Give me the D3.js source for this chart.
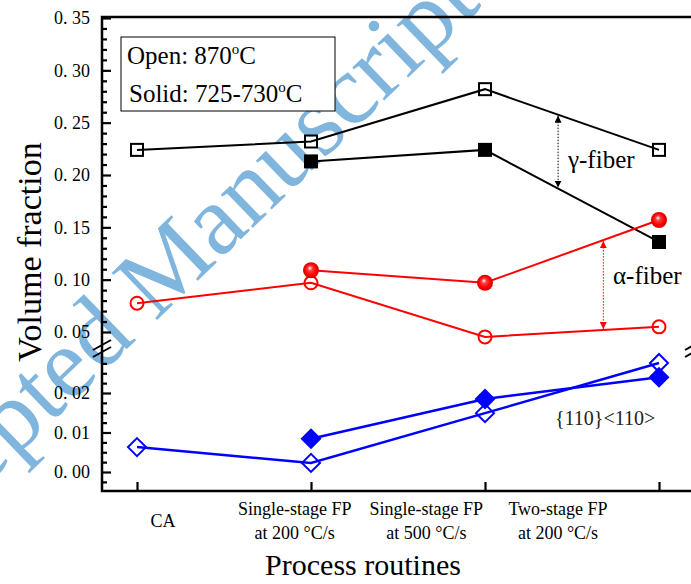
<!DOCTYPE html>
<meta charset="utf-8">
<script src="https://d3js.org/d3.v7.min.js"></script>
<style>
  body { margin: 0; background: #fff; }
  text { font-family: "Liberation Serif", "Times New Roman", serif; }
</style>
<div id="chart"></div>
<script>
  // categories and values
  var routines = ["CA", "SS200", "SS500", "TS200"];
  var routineLabels = [["CA"], ["Single-stage FP", "at 200 \u00b0C/s"], ["Single-stage FP", "at 500 \u00b0C/s"], ["Two-stage FP", "at 200 \u00b0C/s"]];
  var gammaOpen = [0.224, 0.232, 0.282, 0.224];
  var gammaSolid = [null, 0.213, 0.224, 0.136];
  var alphaOpen = [0.0775, 0.097, 0.0453, 0.0549];
  var alphaSolid = [null, 0.109, 0.097, 0.157];
  var rotOpen = [0.0063, 0.0023, 0.0149, 0.0276];
  var rotSolid = [null, 0.0084, 0.0185, 0.024];
  var upperTicks = [0.05, 0.10, 0.15, 0.20, 0.25, 0.30, 0.35];
  var lowerTicks = [0.00, 0.01, 0.02];

  var width = 691, height = 584;
  var plotLeft = 102, plotRight = 694, plotTop = 17, plotBottom = 491;

  var svg = d3.select("#chart").append("svg")
    .attr("width", width).attr("height", height);

  var defs = svg.append("defs");
  var grad = defs.append("radialGradient").attr("id", "ball")
    .attr("cx", "50%").attr("cy", "50%").attr("r", "50%")
    .attr("fx", "42%").attr("fy", "35%");
  grad.append("stop").attr("offset", "0%").attr("stop-color", "#ffffff");
  grad.append("stop").attr("offset", "30%").attr("stop-color", "#ff4040");
  grad.append("stop").attr("offset", "70%").attr("stop-color", "#ff0000");
  grad.append("stop").attr("offset", "100%").attr("stop-color", "#d00000");

  ["black", "red"].forEach(function (c) {
    defs.append("marker").attr("id", "arr-" + c)
      .attr("viewBox", "0 0 10 10").attr("refX", 10).attr("refY", 5)
      .attr("markerWidth", 7).attr("markerHeight", 7)
      .attr("markerUnits", "userSpaceOnUse")
      .attr("orient", "auto-start-reverse")
      .append("path").attr("d", "M0,0L10,5L0,10Z").attr("fill", c);
  });

  // watermark
  var wm = svg.append("g").attr("transform", "translate(155,322) rotate(-44)")
    .style("font-size", "100px").attr("fill", "#80b5de");
  wm.append("text").attr("x", -25).attr("text-anchor", "end").text("Accepted");
  wm.append("text").attr("x", 0).text("Manuscript");

  // scales
  var x = d3.scalePoint().domain(routines).range([137, 659]);
  var xLabel = d3.scalePoint().domain(routines).range([163, 558]);
  var yUp = d3.scaleLinear().domain([0.05, 0.35]).range([332, 18]);
  var yLow = d3.scaleLinear().domain([0, 0.02]).range([472, 393]);
  function y(v) { return v >= 0.035 ? yUp(v) : yLow(v); }

  function fmt(v) { return d3.format(".2f")(v).replace(".", ". "); }

  // y axis, upper segment
  svg.append("g").attr("transform", "translate(" + plotLeft + ",0)")
    .call(d3.axisLeft(yUp).tickValues(upperTicks).tickSize(-9).tickPadding(12).tickFormat(fmt));
  svg.append("g").attr("transform", "translate(" + plotLeft + ",0)")
    .call(d3.axisLeft(yUp).tickValues(d3.range(6, 35).filter(function (i) { return i % 5 != 0; }).map(function (i) { return i / 100; }))
      .tickSize(-5).tickFormat(""));
  // y axis, lower segment
  svg.append("g").attr("transform", "translate(" + plotLeft + ",0)")
    .call(d3.axisLeft(yLow).tickValues(lowerTicks).tickSize(-9).tickPadding(12).tickFormat(fmt));
  svg.append("g").attr("transform", "translate(" + plotLeft + ",0)")
    .call(d3.axisLeft(yLow).tickValues(d3.range(-1, 12).filter(function (i) { return i % 4 != 0; }).map(function (i) { return i * 0.0025; }))
      .tickSize(-5).tickFormat(""));
  // x axis
  svg.append("g").attr("transform", "translate(0," + plotBottom + ")")
    .call(d3.axisBottom(x).tickSize(-9).tickFormat(""));

  svg.selectAll(".domain").remove();
  svg.selectAll(".tick line").attr("stroke", "#000").attr("stroke-width", 2.2);
  svg.selectAll(".tick text").attr("fill", "#000").style("font-size", "18px")
    .style("font-family", "'Liberation Serif', serif");

  // frame
  svg.append("path")
    .attr("d", "M" + plotLeft + "," + plotTop + "H" + plotRight + "V" + plotBottom + "H" + plotLeft + "Z")
    .attr("fill", "none").attr("stroke", "#000").attr("stroke-width", 2.5);

  // break marks
  [[plotLeft, 345], [plotLeft, 352], [plotRight, 345], [plotRight, 352]].forEach(function (p) {
    svg.append("line")
      .attr("x1", p[0] - 9).attr("y1", p[1] + 5)
      .attr("x2", p[0] + 9).attr("y2", p[1] - 5)
      .attr("stroke", "#000").attr("stroke-width", 2);
  });

  // x tick labels
  routineLabels.forEach(function (lines, i) {
    var t = svg.append("text").attr("text-anchor", "middle").style("font-size", "18px");
    if (lines.length == 1) {
      t.attr("x", xLabel(routines[i])).attr("y", 527).text(lines[0]);
    } else {
      lines.forEach(function (s, j) {
        t.append("tspan").attr("x", xLabel(routines[i])).attr("y", 515 + j * 24).text(s);
      });
    }
  });

  // axis titles
  svg.append("text").attr("x", 363).attr("y", 575).attr("text-anchor", "middle")
    .style("font-size", "30px").text("Process routines");
  svg.append("text").attr("transform", "translate(41,252) rotate(-90)")
    .attr("text-anchor", "middle").style("font-size", "34px").text("Volume fraction");

  // legend box
  svg.append("rect").attr("x", 121).attr("y", 37).attr("width", 214).attr("height", 74)
    .attr("fill", "#fff").attr("stroke", "#000").attr("stroke-width", 1);
  var l1 = svg.append("text").attr("x", 127).attr("y", 64).style("font-size", "25px");
  l1.append("tspan").text("Open: 870");
  l1.append("tspan").attr("dy", -10).style("font-size", "15px").text("o");
  l1.append("tspan").attr("dy", 10).text("C");
  var l2 = svg.append("text").attr("x", 129).attr("y", 102).style("font-size", "25px");
  l2.append("tspan").text("Solid: 725-730");
  l2.append("tspan").attr("dy", -10).style("font-size", "15px").text("o");
  l2.append("tspan").attr("dy", 10).text("C");

  // series
  function pts(vals) {
    return vals.map(function (v, i) { return { c: routines[i], v: v }; })
      .filter(function (d) { return d.v != null; });
  }
  var line = d3.line().x(function (d) { return x(d.c); }).y(function (d) { return y(d.v); });

  function drawLine(vals, color, w) {
    svg.append("path").datum(pts(vals)).attr("d", line)
      .attr("fill", "none").attr("stroke", color).attr("stroke-width", w);
  }
  drawLine(gammaOpen, "#000", 2);
  drawLine(gammaSolid, "#000", 2);
  drawLine(alphaOpen, "#ff0000", 2);
  drawLine(alphaSolid, "#ff0000", 2);
  drawLine(rotOpen, "#0000ff", 2.5);
  drawLine(rotSolid, "#0000ff", 2.5);

  function diamond(r) { return "M0," + (-r) + "L" + r + ",0L0," + r + "L" + (-r) + ",0Z"; }

  svg.selectAll(".gso").data(pts(gammaSolid)).enter().append("rect")
    .attr("x", function (d) { return x(d.c) - 7; }).attr("y", function (d) { return y(d.v) - 7; })
    .attr("width", 14).attr("height", 14).attr("fill", "#000");
  svg.selectAll(".gop").data(pts(gammaOpen)).enter().append("rect")
    .attr("x", function (d) { return x(d.c) - 6; }).attr("y", function (d) { return y(d.v) - 6; })
    .attr("width", 12).attr("height", 12).attr("fill", "none").attr("stroke", "#000").attr("stroke-width", 2);

  svg.selectAll(".aop").data(pts(alphaOpen)).enter().append("circle")
    .attr("cx", function (d) { return x(d.c); }).attr("cy", function (d) { return y(d.v); })
    .attr("r", 6.5).attr("fill", "none").attr("stroke", "#ff0000").attr("stroke-width", 2);
  svg.selectAll(".aso").data(pts(alphaSolid)).enter().append("circle")
    .attr("cx", function (d) { return x(d.c); }).attr("cy", function (d) { return y(d.v); })
    .attr("r", 8).attr("fill", "url(#ball)");

  svg.selectAll(".rso").data(pts(rotSolid)).enter().append("path")
    .attr("transform", function (d) { return "translate(" + x(d.c) + "," + y(d.v) + ")"; })
    .attr("d", diamond(10.5)).attr("fill", "#0000ff");
  svg.selectAll(".rop").data(pts(rotOpen)).enter().append("path")
    .attr("transform", function (d) { return "translate(" + x(d.c) + "," + y(d.v) + ")"; })
    .attr("d", diamond(9)).attr("fill", "none").attr("stroke", "#0000ff").attr("stroke-width", 2);

  // fiber arrows between the two lines of each pair
  function between(a, b, t) {
    var x0 = x(routines[2]), x1 = x(routines[3]);
    return { x: x0 + t * (x1 - x0), y1: y(a[2]) + t * (y(a[3]) - y(a[2])), y2: y(b[2]) + t * (y(b[3]) - y(b[2])) };
  }
  var g = between(gammaOpen, gammaSolid, 0.42);
  svg.append("line").attr("x1", g.x).attr("x2", g.x).attr("y1", g.y1 + 1).attr("y2", g.y2 - 1)
    .attr("stroke", "#000").attr("stroke-width", 1).attr("stroke-dasharray", "1.5,1.5")
    .attr("marker-start", "url(#arr-black)").attr("marker-end", "url(#arr-black)");
  var a = between(alphaSolid, alphaOpen, 0.68);
  svg.append("line").attr("x1", a.x).attr("x2", a.x).attr("y1", a.y1 + 1).attr("y2", a.y2 - 1)
    .attr("stroke", "#ff0000").attr("stroke-width", 1).attr("stroke-dasharray", "1.5,1.5")
    .attr("marker-start", "url(#arr-red)").attr("marker-end", "url(#arr-red)");

  svg.append("text").attr("x", 568).attr("y", 168).style("font-size", "25px").text("\u03b3-fiber");
  svg.append("text").attr("x", 613).attr("y", 284).style("font-size", "25px").text("\u03b1-fiber");
  svg.append("text").attr("x", 555).attr("y", 425).style("font-size", "20px").attr("fill", "#222").text("{110}<110>");
</script>
